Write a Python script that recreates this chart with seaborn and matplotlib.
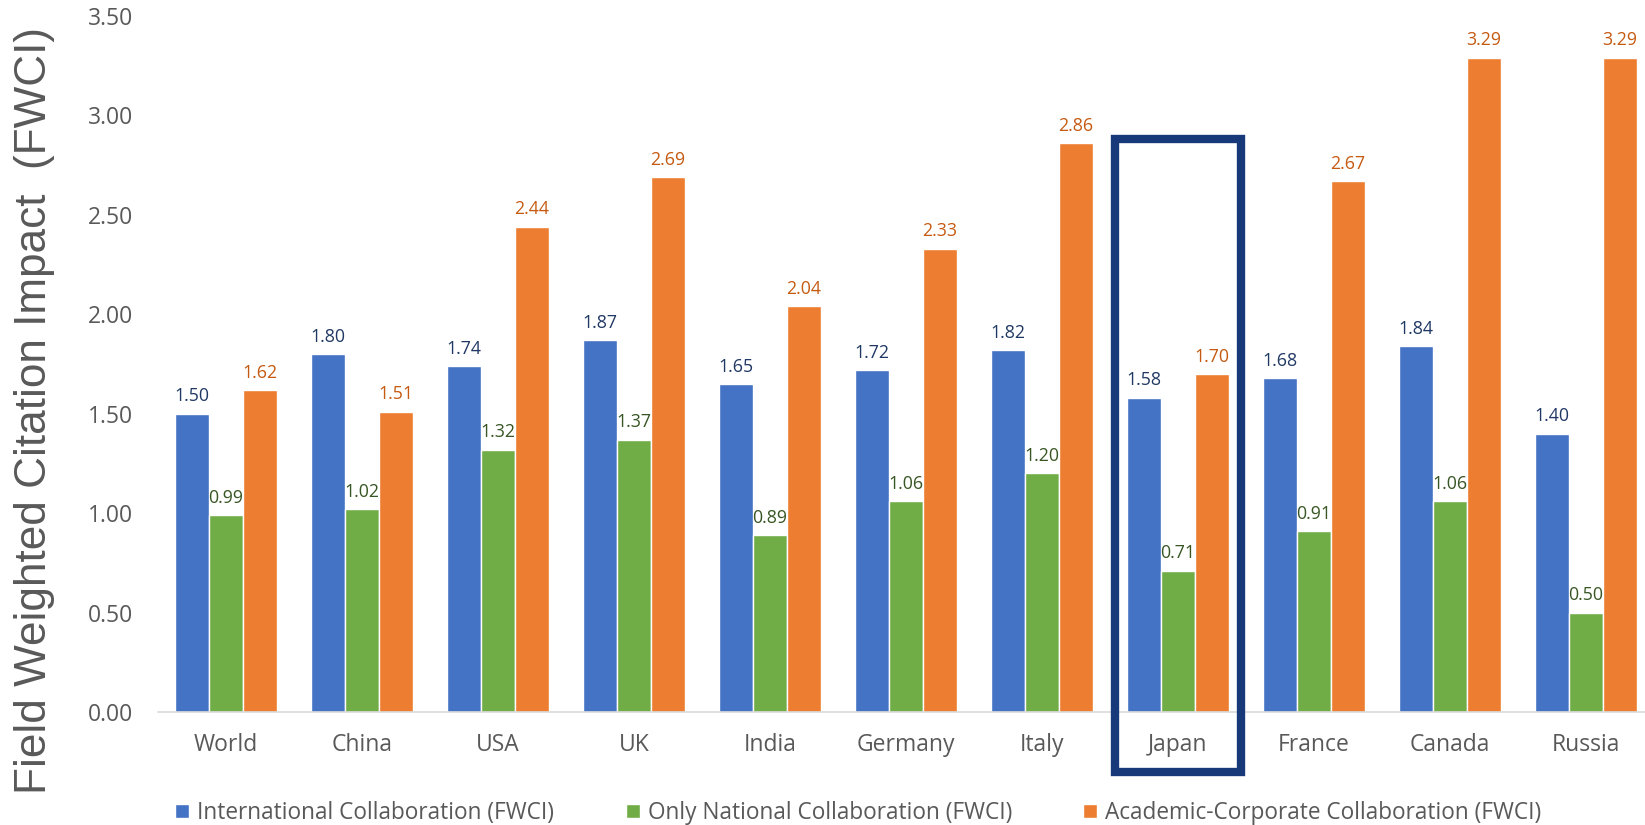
import matplotlib
matplotlib.use("Agg")
import matplotlib.pyplot as plt
import seaborn as sns
import pandas as pd
from matplotlib.patches import Rectangle

countries = ["World", "China", "USA", "UK", "India", "Germany", "Italy",
             "Japan", "France", "Canada", "Russia"]
international = [1.50, 1.80, 1.74, 1.87, 1.65, 1.72, 1.82, 1.58, 1.68, 1.84, 1.40]
national = [0.99, 1.02, 1.32, 1.37, 0.89, 1.06, 1.20, 0.71, 0.91, 1.06, 0.50]
academic = [1.62, 1.51, 2.44, 2.69, 2.04, 2.33, 2.86, 1.70, 2.67, 3.29, 3.29]
series_names = ["International Collaboration (FWCI)",
                "Only National Collaboration (FWCI)",
                "Academic-Corporate Collaboration (FWCI)"]
highlight = "Japan"

bar_colors = ["#4472C4", "#70AD47", "#ED7D31"]
label_colors = ["#203864", "#375623", "#C55A11"]

rows = []
for name, vals in zip(series_names, [international, national, academic]):
    for c, v in zip(countries, vals):
        rows.append({"Country": c, "Series": name, "FWCI": v})
df = pd.DataFrame(rows)

sns.set_theme(style="white")
plt.rcParams["font.family"] = ["Open Sans", "DejaVu Sans"]

fig = plt.figure(figsize=(16.45, 8.25), dpi=100)
ax = fig.add_axes([158 / 1645, 1 - 712 / 825, 1 - 158 / 1645, (712 - 16) / 825])

sns.barplot(data=df, x="Country", y="FWCI", hue="Series", order=countries,
            hue_order=series_names, palette=bar_colors, width=0.75,
            saturation=1, ax=ax, legend=True, errorbar=None)

for cont, col in zip(ax.containers, label_colors):
    ax.bar_label(cont, fmt="%.2f", padding=6, color=col, fontsize=12.8)

ax.set_ylim(0, 3.5)
ax.set_yticks([0, 0.5, 1.0, 1.5, 2.0, 2.5, 3.0, 3.5])
ax.set_yticklabels([f"{t:.2f}" for t in ax.get_yticks()])
ax.set_xlim(-0.5, 10.5 - 9 / 136)
ax.tick_params(axis="both", length=0, labelsize=16.5, labelcolor="#595959")
ax.tick_params(axis="x", pad=15)
ax.tick_params(axis="y", pad=18)
ax.set_xlabel("")
ax.set_ylabel("")
for s in ["top", "right", "left"]:
    ax.spines[s].set_visible(False)
ax.spines["bottom"].set_color("#D9D9D9")
ax.spines["bottom"].set_linewidth(1.2)

# highlight box around Japan
idx = countries.index(highlight)
rect = Rectangle((idx - 0.465, -0.30), 0.93, 3.18, fill=False,
                 edgecolor="#17397A", linewidth=6, clip_on=False, zorder=5)
ax.add_patch(rect)

fig.text(35 / 1645, 1 - 411 / 825, "Field Weighted Citation Impact  (FWCI)",
         rotation=90, ha="center", va="center", fontsize=31.8, color="#595959",
         family=["Liberation Sans", "DejaVu Sans"])

handles, labels = ax.get_legend_handles_labels()
ax.get_legend().remove()
xs = [175, 626, 1083]
for h, l, x in zip(handles, labels, xs):
    fig.legend([h], [l], loc="center left", bbox_to_anchor=(x / 1645, 1 - 813 / 825),
               frameon=False, fontsize=16.3, borderpad=0, borderaxespad=0,
               handlelength=0.62, handleheight=0.62, handletextpad=0.35,
               labelcolor="#595959")

fig.savefig("out.png", dpi=100)
